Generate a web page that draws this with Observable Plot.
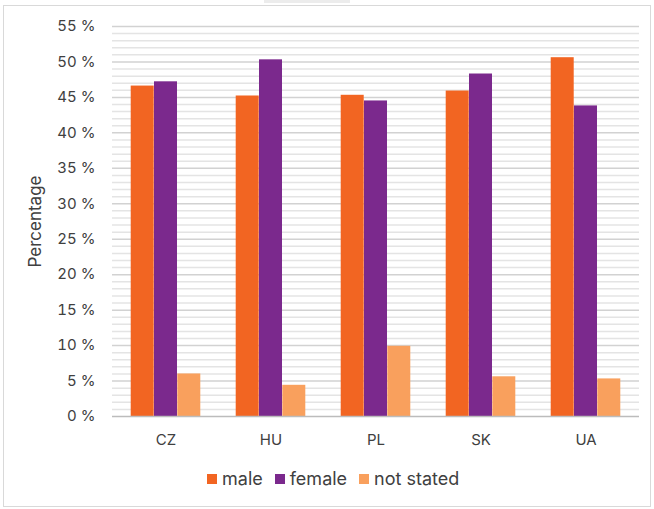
<!DOCTYPE html>
<html>
<head>
<meta charset="utf-8">
<script src="https://cdn.jsdelivr.net/npm/d3@7"></script>
<script src="https://cdn.jsdelivr.net/npm/@observablehq/plot@0.6"></script>
<style>
  html, body { margin: 0; padding: 0; background: #fff; }
  body { width: 654px; height: 509px; position: relative; overflow: hidden; font-family: Inter, "Open Sans", sans-serif; color: #404040; }
  #frame { position: absolute; left: 3px; top: 5px; width: 646px; height: 500px; border: 1px solid #d9d9d9; }
  #tab { position: absolute; left: 264px; top: 0; width: 86px; height: 3px; background: #ececec; }
  #chart { position: absolute; left: 0; top: 0; }
  #legend { position: absolute; left: 207px; top: 468px; display: flex; align-items: center; font-size: 18px; color: #404040; }
  #legend .item { display: flex; align-items: center; margin-right: 12px; }
  #legend .sw { width: 10px; height: 10px; margin-right: 5px; }
</style>
</head>
<body>
<div id="frame"></div>
<div id="tab"></div>
<div id="chart"></div>
<div id="legend"></div>
<script>
const countries = ["CZ", "HU", "PL", "SK", "UA"];
const male      = [46.6, 45.2, 45.3, 45.9, 50.6];
const female    = [47.2, 50.3, 44.5, 48.3, 43.8];
const notStated = [6.0, 4.4, 9.9, 5.6, 5.3];
const seriesNames = ["male", "female", "not stated"];
const seriesColors = ["#F26522", "#7B298D", "#F9A05D"];
const yTicks = [0, 5, 10, 15, 20, 25, 30, 35, 40, 45, 50, 55];
const minorTicks = d3.range(1, 56).filter(v => v % 5 !== 0);

const W = 654, H = 460;
const mL = 112, mR = 15, mT = 26, mB = 44;
const pInner = 0.779;
const step = (W - mL - mR) / countries.length;
const bw = step * (1 - pInner);

const rows = (vals) => countries.map((c, i) => ({country: c, value: vals[i]}));

const plot = Plot.plot({
  width: W,
  height: H,
  marginLeft: mL,
  marginRight: mR,
  marginTop: mT,
  marginBottom: mB,
  style: {fontFamily: "Inter, 'Open Sans', sans-serif", fontSize: "15px", color: "#404040", background: "transparent"},
  x: {domain: countries, paddingInner: pInner, paddingOuter: pInner / 2, label: null},
  y: {domain: [0, 55], label: null},
  marks: [
    Plot.ruleY(minorTicks, {stroke: "#e4e4e4", strokeWidth: 1.5}),
    Plot.ruleY(yTicks.filter(v => v > 0), {stroke: "#d2d2d2", strokeWidth: 1.5}),
    Plot.barY(rows(male), {x: "country", y: "value", fill: seriesColors[0], dx: -bw}),
    Plot.barY(rows(female), {x: "country", y: "value", fill: seriesColors[1]}),
    Plot.barY(rows(notStated), {x: "country", y: "value", fill: seriesColors[2], dx: bw}),
    Plot.ruleY([0], {stroke: "#bcbcbc", strokeWidth: 1.5}),
    Plot.axisY({ticks: yTicks, tickSize: 0, tickPadding: 17, tickFormat: d => d + " %", label: null, fontSize: 15}),
    Plot.axisX({tickSize: 0, tickPadding: 18, label: null, fontSize: 15}),
    Plot.text(["Percentage"], {frameAnchor: "left", textAnchor: "middle", dx: -77, rotate: -90, fontSize: 17, fill: "#404040"})
  ]
});
document.getElementById("chart").appendChild(plot);

const legend = document.getElementById("legend");
seriesNames.forEach((n, i) => {
  const item = document.createElement("div");
  item.className = "item";
  const sw = document.createElement("div");
  sw.className = "sw";
  sw.style.background = seriesColors[i];
  const t = document.createElement("span");
  t.textContent = n;
  item.appendChild(sw);
  item.appendChild(t);
  legend.appendChild(item);
});
</script>
</body>
</html>
